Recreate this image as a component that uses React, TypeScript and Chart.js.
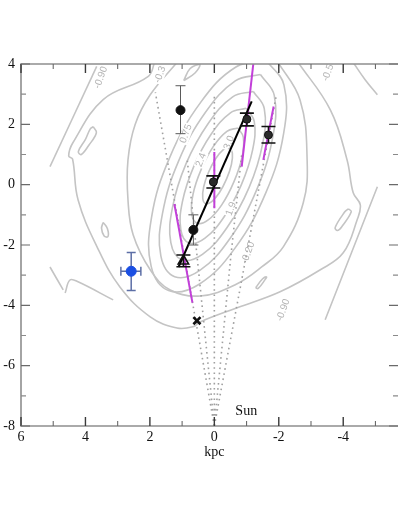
import React, { useEffect, useRef } from 'react';
import { Chart, registerables } from 'chart.js';

Chart.register(...registerables);

// ---------- axes ----------
const X_MIN = -5.7;
const X_MAX = 6;
const Y_MIN = -8;
const Y_MAX = 4;
const xTickValues = [6, 4, 2, 0, -2, -4];
const yTickValues = [4, 2, 0, -2, -4, -6, -8];
const xMinorValues = [5, 3, 1, -1, -3, -5];
const yMinorValues = [3, 1, -1, -3, -5, -7];

// ---------- markers ----------
const blueX = [2.58];
const blueY = [-2.87];
const blueXLow = [2.9];
const blueXHigh = [2.28];
const blueYHigh = [-2.25];
const blueYLow = [-3.51];

const dotX = [1.05, 0.65];
const dotY = [2.47, -1.5];
const dotYHigh = [3.28, -1.0];
const dotYLow = [1.69, -2.0];

const triX = [0.96];
const triY = [-2.53];
const triYHigh = [-2.33];
const triYLow = [-2.72];

const phiX = [0.03, -1.01, -1.68];
const phiY = [0.09, 2.17, 1.65];
const phiYHigh = [0.29, 2.37, 1.93];
const phiYLow = [-0.11, 1.95, 1.38];

const crossX = [0.54];
const crossY = [-4.51];

// ---------- lines ----------
const fitLine = [[1.11, -2.73], [-1.16, 2.76]];
const magentaSegments = [
  [[1.24, -0.64], [0.68, -3.91]],
  [[0.0, 1.08], [0.0, -0.78]],
  [[-1.23, 4.2], [-0.85, 0.6]],
  [[-1.84, 2.59], [-1.52, 0.82]],
];
const sightlines = [
  [[0, -8], [1.83, 3.06]],
  [[0, -8], [0.84, 0.82]],
  [[0, -8], [0, 3.0]],
  [[0, -8], [-0.5, -2.5], [-0.85, 1.0]],
  [[0, -8], [-1.93, 3.0]],
];

// ---------- contours ----------
const contourK1 = [[-0.47, 1.23], [-0.28, 1.16], [-0.04, 0.86], [0.18, 0.41], [0.33, -0.07], [0.36, -0.45], [0.27, -0.63], [0.08, -0.56], [-0.16, -0.26], [-0.38, 0.19], [-0.53, 0.67], [-0.56, 1.05], [-0.47, 1.23]];
const contourK2 = [[-0.73, 1.88], [-0.39, 1.77], [0.03, 1.27], [0.41, 0.5], [0.66, -0.31], [0.7, -0.97], [0.53, -1.28], [0.19, -1.17], [-0.23, -0.67], [-0.61, 0.1], [-0.86, 0.91], [-0.9, 1.57], [-0.73, 1.88]];
const contourK3 = [[-0.99, 2.53], [-0.5, 2.38], [0.1, 1.67], [0.64, 0.6], [0.99, -0.56], [1.04, -1.49], [0.79, -1.93], [0.3, -1.78], [-0.3, -1.07], [-0.84, 0.0], [-1.19, 1.16], [-1.24, 2.09], [-0.99, 2.53]];
const contourK4 = [[-1.21, 3.09], [-0.57, 2.91], [0.19, 2.03], [0.88, 0.69], [1.3, -0.76], [1.35, -1.92], [1.01, -2.49], [0.37, -2.31], [-0.39, -1.43], [-1.08, -0.09], [-1.5, 1.36], [-1.55, 2.52], [-1.21, 3.09]];
const contourK5 = [[-1.43, 3.65], [-0.65, 3.44], [0.28, 2.39], [1.11, 0.78], [1.61, -0.96], [1.66, -2.36], [1.23, -3.05], [0.45, -2.84], [-0.48, -1.79], [-1.31, -0.18], [-1.81, 1.56], [-1.86, 2.96], [-1.43, 3.65]];
const contourK6 = [[-1.62, 4.11], [-0.67, 3.9], [0.43, 2.72], [1.39, 0.89], [1.95, -1.09], [1.96, -2.71], [1.42, -3.51], [0.47, -3.3], [-0.63, -2.12], [-1.59, -0.29], [-2.15, 1.69], [-2.16, 3.31], [-1.62, 4.11]];
const contourC2 = [[1.12, 4.1], [1.99, 2.98], [2.46, 1.99], [2.68, 0.82], [2.68, -0.5], [2.52, -1.66], [1.99, -2.82], [1.37, -3.49], [0.44, -3.69], [-0.65, -3.32], [-1.48, -2.72], [-2.14, -2.06], [-2.76, -0.6], [-2.88, 0.82], [-2.66, 2.81], [-1.95, 4.1]];
const contourC1 = [[1.84, 4.1], [2.06, 3.58], [3.45, 2.82], [4.39, 1.39], [4.52, 0.95], [4.4, 0.85], [4.23, -0.5], [3.64, -2.06], [2.93, -3.39], [1.99, -4.38], [1.16, -4.75], [0.66, -4.71], [0.44, -4.55], [-0.71, -4.08], [-2.04, -3.55], [-3.29, -2.82], [-4.0, -2.26], [-4.43, -1.17], [-4.53, -0.67], [-4.31, -0.27], [-4.12, 0.82], [-3.6, 2.48], [-2.57, 4.1]];
const loopLeftA = [[3.76, 1.92], [3.66, 1.72], [3.9, 1.3], [4.13, 1.0], [4.22, 1.1], [4.0, 1.5], [3.85, 1.85], [3.76, 1.92]];
const loopLeftB = [[3.45, -1.25], [3.32, -1.45], [3.3, -1.72], [3.42, -1.7], [3.5, -1.45], [3.45, -1.25]];
const loopRight = [[-4.16, -0.8], [-4.25, -0.9], [-3.95, -1.4], [-3.82, -1.52], [-3.75, -1.42], [-4.05, -0.9], [-4.16, -0.8]];
const loopLow = [[-1.28, -3.42], [-1.5, -3.12], [-1.62, -3.06], [-1.58, -3.14], [-1.36, -3.44], [-1.28, -3.42]];
const loopTop = [[0.95, 3.45], [0.75, 3.85], [0.45, 3.98], [0.6, 3.7], [0.95, 3.45]];
const strokeLeft = [[3.65, 3.92], [5.1, 0.6]];
const strokeRight = [[-5.06, -0.07], [-3.44, -4.48]];
const strokeTopRight = [[-4.31, 4.05], [-4.68, 3.48], [-5.06, 2.98]];
const strokeBottomA = [[5.1, -2.73], [4.69, -3.49]];
const strokeBottomB = [[4.63, -3.59], [4.48, -3.16], [4.23, -3.22], [3.14, -3.82]];
const contours = [contourK1, contourK2, contourK3, contourK4, contourK5, contourK6, contourC2, contourC1, loopLeftA, loopLeftB, loopRight, loopLow, loopTop, strokeLeft, strokeRight, strokeTopRight, strokeBottomA, strokeBottomB];

// ---------- contour labels ----------
const contourLabels = ['-0.90', '-0.3', '0.75', '2.4', '3.0', '1.9', '-0.20', '-0.90', '-0.5'];
const contourLabelX = [3.52, 1.68, 0.88, 0.41, -0.46, -0.52, -1.05, -2.14, -3.53];
const contourLabelY = [3.55, 3.65, 1.69, 0.82, 1.39, -0.8, -2.26, -4.16, 3.71];

const sunLabel = 'Sun';
const sunX = -0.99;
const sunY = -7.5;
const axisTitle = 'kpc';

const toPts = (arr: number[][]) => arr.map(([x, y]) => ({ x, y }));
const zipPts = (xs: number[], ys: number[]) => xs.map((x, i) => ({ x, y: ys[i] }));

export default function App() {
  const ref = useRef<HTMLCanvasElement | null>(null);

  useEffect(() => {
    if (!ref.current) return;
    const datasets: any[] = [];
    const push = (d: any) => {
      datasets.push(d);
      return datasets.length - 1;
    };
    const markerBase = { showLine: false, pointHoverRadius: 0 };
    push({ ...markerBase, label: 'blue', data: zipPts(blueX, blueY), pointStyle: 'circle', pointRadius: 5, backgroundColor: '#1b4fe3', borderColor: '#1b4fe3', borderWidth: 1 });
    push({ ...markerBase, label: 'dots', data: zipPts(dotX, dotY), pointStyle: 'circle', pointRadius: 4.5, backgroundColor: '#111', borderColor: '#111', borderWidth: 1 });
    push({ ...markerBase, label: 'tri', data: zipPts(triX, triY), pointStyle: 'triangle', pointRadius: 6, backgroundColor: 'rgba(0,0,0,0)', borderColor: '#111', borderWidth: 1.6 });
    push({ ...markerBase, label: 'phi', data: zipPts(phiX, phiY), pointStyle: 'circle', pointRadius: 4, backgroundColor: '#2a2a2a', borderColor: '#111', borderWidth: 1 });
    push({ ...markerBase, label: 'cross', data: zipPts(crossX, crossY), pointStyle: 'crossRot', pointRadius: 5, borderColor: '#111', borderWidth: 2.6 });
    const errIdx = push({ label: 'fit', data: toPts(fitLine), showLine: true, pointRadius: 0, borderColor: '#000', borderWidth: 2 });
    magentaSegments.forEach((s, i) => push({ label: 'mag' + i, data: toPts(s), showLine: true, pointRadius: 0, borderColor: '#c23fd9', borderWidth: 2 }));
    sightlines.forEach((s, i) => push({ label: 'sight' + i, data: toPts(s), showLine: true, pointRadius: 0, borderColor: '#a0a0a0', borderWidth: 1.6, borderDash: [1.6, 3.6], tension: 0 }));
    let labelIdx = -1;
    contours.forEach((c, i) => {
      const idx = push({ label: 'cont' + i, data: toPts(c), showLine: true, pointRadius: 0, borderColor: '#c4c4c4', borderWidth: 1.6, tension: 0.4 });
      if (i === 0) labelIdx = idx;
    });

    const overlay = {
      id: 'overlay',
      afterDatasetDraw(chart: any, args: any) {
        const ctx = chart.ctx;
        const xs = chart.scales.x;
        const ys = chart.scales.y;
        const px = (v: number) => xs.getPixelForValue(v);
        const py = (v: number) => ys.getPixelForValue(v);
        const ca = chart.chartArea;
        if (args.index === labelIdx) {
          ctx.save();
          ctx.beginPath();
          ctx.rect(ca.left, ca.top, ca.right - ca.left, ca.bottom - ca.top);
          ctx.clip();
          ctx.font = '10px "Liberation Sans"';
          ctx.textAlign = 'center';
          ctx.textBaseline = 'middle';
          contourLabels.forEach((t, i) => {
            ctx.save();
            ctx.translate(px(contourLabelX[i]), py(contourLabelY[i]));
            ctx.rotate((-70 * Math.PI) / 180);
            const w = ctx.measureText(t).width;
            ctx.fillStyle = '#ffffff';
            ctx.fillRect(-w / 2 - 1, -5, w + 2, 10);
            ctx.fillStyle = '#b4b4b4';
            ctx.fillText(t, 0, 0);
            ctx.restore();
          });
          ctx.restore();
        }
        if (args.index === errIdx) {
          ctx.save();
          const vbar = (x: number, y1: number, y2: number, half: number, color: string, lw: number) => {
            ctx.strokeStyle = color;
            ctx.lineWidth = lw;
            ctx.beginPath();
            ctx.moveTo(px(x), py(y1));
            ctx.lineTo(px(x), py(y2));
            ctx.moveTo(px(x) - half, py(y1));
            ctx.lineTo(px(x) + half, py(y1));
            ctx.moveTo(px(x) - half, py(y2));
            ctx.lineTo(px(x) + half, py(y2));
            ctx.stroke();
          };
          const hbar = (y: number, x1: number, x2: number, half: number, color: string, lw: number) => {
            ctx.strokeStyle = color;
            ctx.lineWidth = lw;
            ctx.beginPath();
            ctx.moveTo(px(x1), py(y));
            ctx.lineTo(px(x2), py(y));
            ctx.moveTo(px(x1), py(y) - half);
            ctx.lineTo(px(x1), py(y) + half);
            ctx.moveTo(px(x2), py(y) - half);
            ctx.lineTo(px(x2), py(y) + half);
            ctx.stroke();
          };
          dotX.forEach((x, i) => vbar(x, dotYHigh[i], dotYLow[i], 5, '#5a5a5a', 1));
          triX.forEach((x, i) => vbar(x, triYHigh[i], triYLow[i], 7, '#111', 1.6));
          phiX.forEach((x, i) => vbar(x, phiYHigh[i], phiYLow[i], 7, '#111', 1.6));
          blueX.forEach((x, i) => {
            vbar(x, blueYHigh[i], blueYLow[i], 4.5, '#5d6fa6', 1.5);
            hbar(blueY[i], blueXLow[i], blueXHigh[i], 4.5, '#5d6fa6', 1.5);
          });
          ctx.restore();
        }
      },
      afterDraw(chart: any) {
        const ctx = chart.ctx;
        const xs = chart.scales.x;
        const ys = chart.scales.y;
        const ca = chart.chartArea;
        ctx.save();
        ctx.strokeStyle = '#8e8e8e';
        ctx.lineWidth = 1.6;
        ctx.beginPath();
        ctx.moveTo(ca.right, ca.top);
        ctx.lineTo(ca.left, ca.top);
        ctx.lineTo(ca.left, ca.bottom);
        ctx.lineTo(ca.right, ca.bottom);
        ctx.stroke();
        const tick = (major: boolean) => (major ? 9 : 5);
        const drawX = (v: number, major: boolean) => {
          const x = xs.getPixelForValue(v);
          ctx.strokeStyle = major ? '#3a3a3a' : '#6a6a6a';
          ctx.lineWidth = major ? 1.4 : 1.1;
          ctx.beginPath();
          ctx.moveTo(x, ca.bottom);
          ctx.lineTo(x, ca.bottom - tick(major));
          ctx.moveTo(x, ca.top);
          ctx.lineTo(x, ca.top + tick(major));
          ctx.stroke();
        };
        const drawY = (v: number, major: boolean) => {
          const y = ys.getPixelForValue(v);
          ctx.strokeStyle = major ? '#6a6a6a' : '#8a8a8a';
          ctx.lineWidth = 1.1;
          ctx.beginPath();
          ctx.moveTo(ca.left, y);
          ctx.lineTo(ca.left + tick(major), y);
          ctx.moveTo(ca.right, y);
          ctx.lineTo(ca.right - tick(major), y);
          ctx.stroke();
        };
        xTickValues.forEach((v) => drawX(v, true));
        xMinorValues.forEach((v) => drawX(v, false));
        yTickValues.forEach((v) => drawY(v, true));
        yMinorValues.forEach((v) => drawY(v, false));
        ctx.fillStyle = '#111';
        ctx.font = '14px "Liberation Serif"';
        ctx.textAlign = 'center';
        ctx.textBaseline = 'middle';
        ctx.fillText(sunLabel, xs.getPixelForValue(sunX), ys.getPixelForValue(sunY));
        ctx.fillText(axisTitle, xs.getPixelForValue(0), ca.bottom + 26);
        ctx.restore();
      },
    };

    const chart = new Chart(ref.current, {
      type: 'scatter',
      data: { datasets },
      options: {
        responsive: false,
        animation: false,
        events: [],
        layout: { autoPadding: false, padding: { top: 64, right: 1, bottom: 51, left: 0 } },
        plugins: { legend: { display: false }, tooltip: { enabled: false } },
        scales: {
          x: {
            type: 'linear',
            reverse: true,
            min: X_MIN,
            max: X_MAX,
            position: 'bottom',
            afterFit: (s: any) => {
              s.height = 40;
              s.paddingLeft = 0;
              s.paddingRight = 0;
            },
            afterBuildTicks: (s: any) => {
              s.ticks = xTickValues.map((v) => ({ value: v }));
            },
            grid: { display: false, drawTicks: false },
            border: { display: false },
            ticks: {
              autoSkip: false,
              maxRotation: 0,
              padding: 3,
              color: '#111',
              font: { family: 'Liberation Serif', size: 14 },
              callback: (v: any) => String(v),
            },
          },
          y: {
            type: 'linear',
            min: Y_MIN,
            max: Y_MAX,
            afterFit: (s: any) => {
              s.width = 21;
              s.paddingTop = 0;
              s.paddingBottom = 0;
            },
            afterBuildTicks: (s: any) => {
              s.ticks = yTickValues.map((v) => ({ value: v }));
            },
            grid: { display: false, drawTicks: false },
            border: { display: false },
            ticks: {
              autoSkip: false,
              padding: 6,
              color: '#111',
              font: { family: 'Liberation Serif', size: 14 },
              callback: (v: any) => String(v),
            },
          },
        },
      },
      plugins: [overlay],
    } as any);
    return () => chart.destroy();
  }, []);

  return (
    <div style={{ position: 'fixed', left: 0, top: 0, width: 399, height: 517, background: '#fff' }}>
      <canvas ref={ref} width={399} height={517} />
    </div>
  );
}
